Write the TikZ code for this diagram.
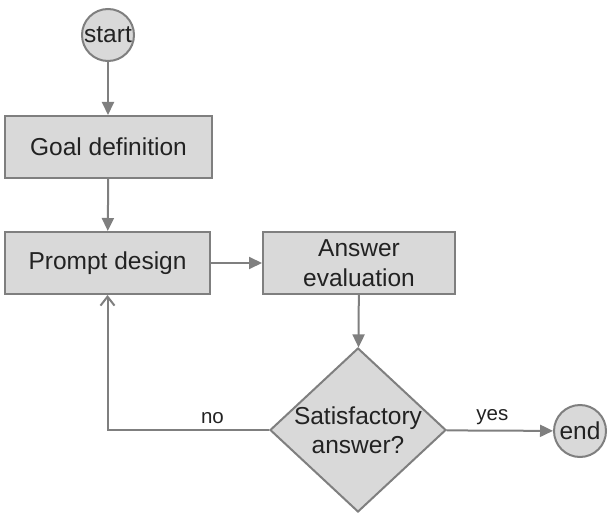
\documentclass[tikz,border=0pt]{standalone}
\usepackage{fontspec}
\setmainfont{Liberation Sans}
\usetikzlibrary{shapes.geometric,arrows.meta}

\definecolor{boxfill}{HTML}{D9D9D9}
\definecolor{boxline}{HTML}{7F7F7F}
\definecolor{textgray}{HTML}{222222}

\begin{document}
\begin{tikzpicture}[x=1pt,y=-1pt,
        every node/.style={font=\fontsize{24.5}{29.5}\selectfont, text=textgray},
        block/.style={draw=boxline, fill=boxfill, line width=2pt, rectangle, minimum height=62pt, align=center, inner sep=0pt},
        terminal/.style={draw=boxline, fill=boxfill, line width=2pt, circle, minimum size=52pt, inner sep=0pt},
        decision/.style={draw=boxline, fill=boxfill, line width=2pt, diamond, minimum width=176pt, minimum height=164pt, inner sep=-8pt, align=center},
        flow/.style={draw=boxline, line width=2pt, -{Triangle[length=13pt,width=12pt]}},
        back/.style={draw=boxline, line width=2pt, -{Straight Barb[length=9pt,width=14pt]}},
        lbl/.style={font=\fontsize{20.5}{24}\selectfont, yshift=2pt}]
        \useasboundingbox (0,0) rectangle (612,513);

        \node[terminal] (start) at (108,35) {start};
        \node[block, minimum width=207pt] (goal) at (108.5,147) {Goal definition};
        \node[block, minimum width=205pt] (prompt) at (107.5,263) {Prompt design};
        \node[block, minimum width=192pt] (answer) at (359,263) {Answer\\evaluation};
        \node[decision] (check) at (358,430) {Satisfactory\\answer?};
        \node[terminal] (end) at (580,431) {end};

        \draw[flow] (start) -- (start |- goal.north);
        \draw[flow] (goal) -- (prompt);
        \draw[flow] (prompt) -- (answer);
        \draw[flow] (answer) -- (check);
        \draw[flow] (check) -- (end) node[lbl, pos=0.43, above] {yes};
        \draw[back] (check.west) -- (prompt |- check.west) node[lbl, pos=0.35, above] {no} -- (prompt.south);

    \end{tikzpicture}
\end{document}
